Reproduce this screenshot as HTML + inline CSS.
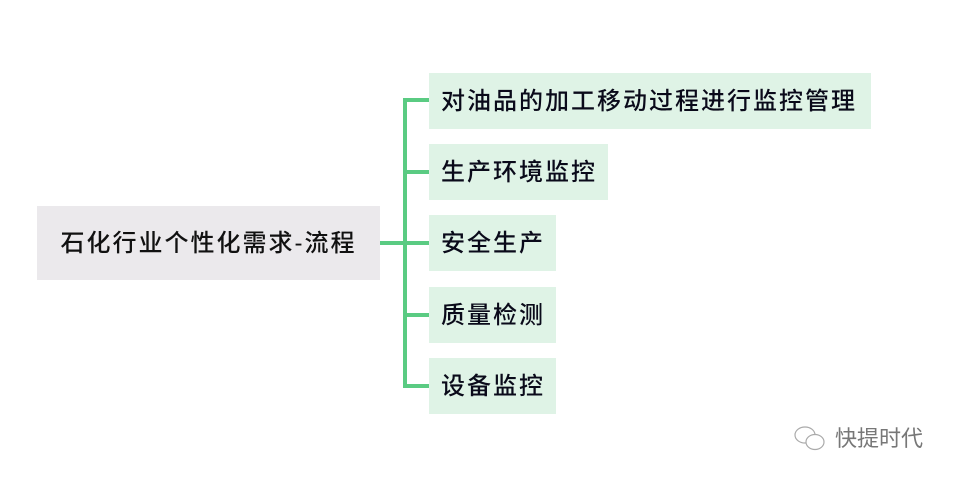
<!DOCTYPE html>
<html><head><meta charset="utf-8"><style>
body{margin:0;width:958px;height:481px;background:#fff;position:relative;overflow:hidden;font-family:"Liberation Sans","Noto Sans CJK SC",sans-serif;}
.b{position:absolute;background:#dff3e6;color:#0a0a1a;font-size:24px;font-weight:500;line-height:58px;padding-left:12px;box-sizing:border-box;height:56px;left:429px;letter-spacing:2px;white-space:nowrap;overflow:hidden;}
.l{position:absolute;background:#5acb82;}
</style></head><body>
<div style="position:absolute;left:37px;top:206px;width:343px;height:74px;background:#ebe9ec;color:#111;font-size:24px;font-weight:500;line-height:76px;text-align:center;letter-spacing:2px">石化行业个性化需求-流程</div>
<div class="l" style="left:380px;top:241px;width:26px;height:4px"></div>
<div class="l" style="left:403px;top:98px;width:4px;height:290px"></div>
<div class="l" style="left:403px;top:98px;width:26px;height:4px"></div>
<div class="l" style="left:403px;top:170px;width:26px;height:4px"></div>
<div class="l" style="left:403px;top:241px;width:26px;height:4px"></div>
<div class="l" style="left:403px;top:313px;width:26px;height:4px"></div>
<div class="l" style="left:403px;top:384px;width:26px;height:4px"></div>
<div class="b" style="top:73px;width:442px">对油品的加工移动过程进行监控管理</div>
<div class="b" style="top:144px;width:179px">生产环境监控</div>
<div class="b" style="top:215px;width:127px">安全生产</div>
<div class="b" style="top:287px;width:127px">质量检测</div>
<div class="b" style="top:358px;width:127px">设备监控</div>
<div style="position:absolute;left:793px;top:424px;width:36px;height:30px">
<svg width="36" height="30"><ellipse cx="12" cy="11" rx="10" ry="8" fill="none" stroke="#aaa" stroke-width="1.2"/><ellipse cx="22" cy="18" rx="9" ry="7.5" fill="#fff" stroke="#aaa" stroke-width="1.2"/></svg></div>
<div style="position:absolute;left:835px;top:424px;font-size:22px;line-height:30px;color:#777">快提时代</div>
</body></html>
